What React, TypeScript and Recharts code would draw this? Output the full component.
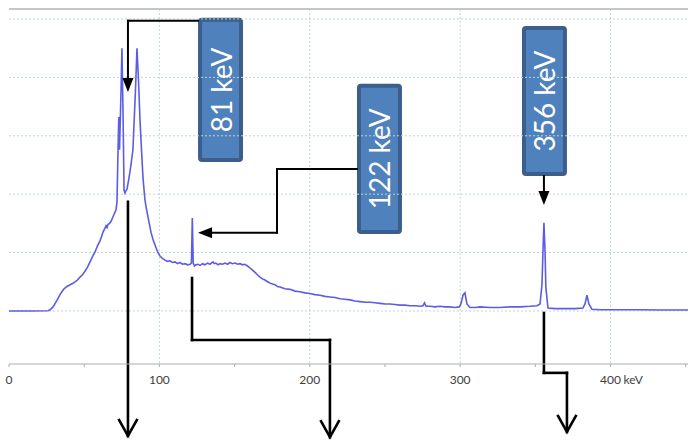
import React from 'react';
import {
  LineChart, Line, XAxis, YAxis, CartesianGrid, ReferenceLine, ReferenceArea
} from 'recharts';

const energiaKeV = [
  0, 14, 25.9, 27.3, 29.3, 31.9, 33.9, 35.2, 36.6, 38.6, 40.6, 42.3, 43.9, 45.5, 47.2, 48.9,
  50.5, 52.2, 53.9, 55.5, 57.2, 58.9, 60.5, 61.5, 62.5, 63.5, 64.5, 65.2, 65.8, 66.8, 67.8, 69.1,
  70.1, 71.1, 71.8, 72.5, 73.0, 73.5, 74.5, 75.1, 75.8, 76.5, 77.1, 77.8, 78.5, 79.8, 81.1, 82.4,
  83.1, 84.1, 85.1, 86.1, 87.1, 88.1, 89.1, 90.4, 91.4, 92.4, 94.4, 95.8, 97.1, 98.7, 100.4, 102.0,
  103.7, 105.3, 107.0, 108.7, 110.4, 112.0, 113.7, 115.3, 117.0, 118.7, 120.3, 121.3, 121.9, 122.5, 123.4, 124.3,
  125.7, 127.0, 128.7, 130.3, 132.0, 133.6, 135.6, 136.6, 137.6, 139.0, 140.3, 142.0, 143.6, 145.3, 146.9, 148.6,
  150.3, 152.0, 153.6, 155.3, 156.9, 158.6, 160.2, 161.9, 163.6, 165.2, 166.9, 168.5, 170.2, 171.9, 173.5, 175.2,
  176.9, 178.5, 180.2, 183.5, 186.8, 190.2, 193.5, 196.8, 200.1, 203.5, 206.8, 210.1, 213.4, 216.8, 220.1, 223.4,
  226.7, 230.1, 233.4, 236.7, 240.0, 243.4, 246.7, 250.0, 253.3, 256.7, 260.0, 263.3, 266.6, 270.0, 273.3, 275.3,
  276.3, 277.3, 280.0, 283.2, 286.6, 289.9, 293.2, 296.5, 299.5, 300.5, 301.9, 303.2, 304.5, 306.5, 310.0, 313.2,
  319.8, 326.5, 333.1, 339.8, 346.4, 351.1, 353.1, 354.4, 355.1, 355.7, 356.4, 357.0, 358.4, 363.0, 369.7, 376.3,
  381.6, 383.0, 384.3, 385.6, 387.6, 393.0, 406.3, 419.5, 432.8, 451.5
];
const cuentas = [
  0, 0, 0.005, 0.02, 0.07, 0.18, 0.28, 0.33, 0.38, 0.42, 0.45, 0.47, 0.50, 0.53, 0.58, 0.62,
  0.68, 0.75, 0.84, 0.93, 1.01, 1.12, 1.20, 1.27, 1.35, 1.40, 1.46, 1.43, 1.48, 1.50, 1.53, 1.61,
  1.67, 1.73, 1.86, 2.76, 3.32, 2.76, 3.78, 4.50, 3.44, 2.07, 2.02, 2.06, 2.09, 2.28, 2.50, 2.76,
  3.18, 3.78, 4.50, 3.96, 3.27, 2.76, 2.28, 1.90, 1.75, 1.61, 1.35, 1.22, 1.13, 1.02, 0.94, 0.90,
  0.87, 0.85, 0.86, 0.83, 0.84, 0.81, 0.83, 0.80, 0.81, 0.79, 0.80, 0.82, 1.59, 0.82, 0.77, 0.79,
  0.80, 0.78, 0.81, 0.79, 0.82, 0.80, 0.84, 0.81, 0.82, 0.79, 0.81, 0.80, 0.82, 0.80, 0.83, 0.81,
  0.82, 0.80, 0.81, 0.79, 0.80, 0.77, 0.74, 0.70, 0.66, 0.62, 0.58, 0.55, 0.53, 0.50, 0.48, 0.46,
  0.45, 0.42, 0.41, 0.38, 0.37, 0.34, 0.33, 0.31, 0.30, 0.28, 0.27, 0.25, 0.24, 0.23, 0.21, 0.20,
  0.19, 0.17, 0.16, 0.15, 0.15, 0.14, 0.13, 0.12, 0.12, 0.11, 0.10, 0.10, 0.09, 0.09, 0.08, 0.09,
  0.14, 0.08, 0.08, 0.07, 0.08, 0.07, 0.07, 0.06, 0.07, 0.12, 0.27, 0.31, 0.12, 0.06, 0.06, 0.07,
  0.06, 0.06, 0.07, 0.07, 0.08, 0.09, 0.12, 0.45, 1.05, 1.51, 1.05, 0.40, 0.05, 0.04, 0.04, 0.04,
  0.05, 0.12, 0.27, 0.12, 0.03, 0.02, 0.02, 0.02, 0.017, 0.017
];

// Ejes
const xTicks = [0, 50, 100, 150, 200, 250, 300, 350, 400, 450];
const xTickLabels = ['0', '', '100', '', '200', '', '300', '', '400', ''];
const unidad = 'keV';
const yTicks = [-0.5, 0, 0.5, 1, 1.5, 2, 2.5, 3, 3.5, 4, 4.5, 5];
const yGrid = [0, 1, 2, 3, 4, 5];
const xGrid = [100, 200, 300, 400];
const X_MAX = 451.5;
const Y_MIN = -0.908;
const Y_MAX = 5.171;

// Etiquetas de picos: [x1, x2, y1, y2] en keV / cuentas
const etiquetas = ['81 keV', '122 keV', '356 keV'];
const cajas = [
  [125.7, 155.6, 2.55, 5.02],
  [231.4, 261.3, 1.32, 3.89],
  [341.1, 371.0, 2.31, 4.88]
];

// Flechas como polilíneas en coordenadas de datos
type Punto = [number, number];
const flechas: { pts: Punto[]; punta: 'llena' | 'abierta'; ancho: number }[] = [
  { pts: [[125.7, 4.97], [79.1, 4.97], [79.1, 3.75]], punta: 'llena', ancho: 2 },
  { pts: [[79.1, 1.87], [79.1, -2.14]], punta: 'abierta', ancho: 2.6 },
  { pts: [[231.4, 2.43], [178.2, 2.43], [178.2, 1.34], [125.7, 1.34]], punta: 'llena', ancho: 2 },
  { pts: [[121.7, 0.565], [121.7, -0.497], [213.4, -0.497], [213.4, -2.16]], punta: 'abierta', ancho: 2.6 },
  { pts: [[355.7, 2.31], [355.7, 1.815]], punta: 'llena', ancho: 2 },
  { pts: [[355.7, -0.034], [355.7, -1.06], [371.0, -1.06], [371.0, -2.07]], punta: 'abierta', ancho: 2.6 }
];

const data = energiaKeV.map((e, i) => ({ e, c: cuentas[i] }));

const FONT = 'Lato, "Open Sans", sans-serif';
const GRID = '#bfd6d6';

const segmentoShape = (punta: 'ninguna' | 'llena' | 'abierta', ancho: number) => (p: any) => {
  const { x1, y1, x2, y2 } = p;
  const dx = x2 - x1;
  const dy = y2 - y1;
  const len = Math.hypot(dx, dy) || 1;
  const ux = dx / len;
  const uy = dy / len;
  const nx = -uy;
  const ny = ux;
  if (punta === 'llena') {
    const L = 14, W = 5.5;
    const bx = x2 - ux * L, by = y2 - uy * L;
    return (
      <g>
        <line x1={x1} y1={y1} x2={bx} y2={by} stroke="#000" strokeWidth={ancho} strokeLinecap="square" />
        <polygon points={`${x2},${y2} ${bx + nx * W},${by + ny * W} ${bx - nx * W},${by - ny * W}`} fill="#000" />
      </g>
    );
  }
  if (punta === 'abierta') {
    const L = 17, W = 9.5;
    const bx = x2 - ux * L, by = y2 - uy * L;
    return (
      <g>
        <line x1={x1} y1={y1} x2={x2} y2={y2} stroke="#000" strokeWidth={ancho} strokeLinecap="square" />
        <polyline points={`${bx + nx * W},${by + ny * W} ${x2},${y2} ${bx - nx * W},${by - ny * W}`}
          fill="none" stroke="#000" strokeWidth={ancho} />
      </g>
    );
  }
  return <line x1={x1} y1={y1} x2={x2} y2={y2} stroke="#000" strokeWidth={ancho} strokeLinecap="square" />;
};

const cajaShape = (texto: string) => (p: any) => {
  const { x, y, width, height } = p;
  const cx = x + width / 2;
  const cy = y + height / 2;
  return (
    <g>
      <rect x={x + 2} y={y + 2} width={width - 4} height={height - 4} rx={2}
        fill="#4f81bd" stroke="#3b5e8c" strokeWidth={4} />
      <text x={cx} y={cy} transform={`rotate(-90 ${cx} ${cy})`} textAnchor="middle" dominantBaseline="central"
        fill="#fff" fontSize={28} fontFamily={FONT}>{texto}</text>
    </g>
  );
};

const XTick = (props: any) => {
  const { x, y, payload } = props;
  const idx = xTicks.indexOf(payload.value);
  const label = idx >= 0 ? xTickLabels[idx] : '';
  if (!label) return <g />;
  const esUltimo = label === '400';
  return (
    <g>
      <text x={x} y={y + 15} textAnchor="middle" fontSize={12} fill="#404040" fontFamily={FONT}>{label}</text>
      {esUltimo && (
        <text x={x + 13} y={y + 15} textAnchor="start" fontSize={12} fill="#404040" fontFamily={FONT}>{unidad}</text>
      )}
    </g>
  );
};

const App: React.FC = () => (
  <div style={{ position: 'absolute', left: 0, top: 0, width: 688, height: 440, background: '#fff' }}>
    <LineChart width={688} height={440} data={data} margin={{ top: 9, right: 0, left: 9, bottom: 54 }}>
      <CartesianGrid stroke={GRID} strokeDasharray="2 2" horizontal={false} verticalValues={xGrid} />
      <XAxis dataKey="e" type="number" domain={[0, X_MAX]} ticks={xTicks} interval={0}
        allowDataOverflow height={22} tickSize={3} tick={<XTick />}
        axisLine={{ stroke: '#a9b0a9' }} tickLine={{ stroke: '#a9b0a9' }} />
      <YAxis type="number" domain={[Y_MIN, Y_MAX]} ticks={yTicks} interval={0} allowDataOverflow
        width={0} tickSize={3} tick={false}
        axisLine={{ stroke: '#a9b0a9' }} tickLine={{ stroke: '#a9b0a9' }} />
      {yGrid.map((v) => (
        <ReferenceLine key={`g${v}`} y={v} stroke={GRID} strokeDasharray="2 2" />
      ))}
      <ReferenceLine y={Y_MAX} stroke="#c4c8c4" strokeWidth={2} ifOverflow="visible" />
      <Line type="linear" dataKey="c" stroke="#5c5ce6" strokeWidth={1.6} dot={false}
        isAnimationActive={false} />
      {cajas.map(([x1, x2, y1, y2], i) => (
        <ReferenceArea key={etiquetas[i]} x1={x1} x2={x2} y1={y1} y2={y2} ifOverflow="visible"
          shape={cajaShape(etiquetas[i])} />
      ))}
      {flechas.flatMap((f, fi) =>
        f.pts.slice(1).map((pt, si) => (
          <ReferenceLine key={`f${fi}-${si}`} ifOverflow="visible"
            segment={[{ x: f.pts[si][0], y: f.pts[si][1] }, { x: pt[0], y: pt[1] }]}
            shape={segmentoShape(si === f.pts.length - 2 ? f.punta : 'ninguna', f.ancho)} />
        ))
      )}
    </LineChart>
  </div>
);

export default App;
